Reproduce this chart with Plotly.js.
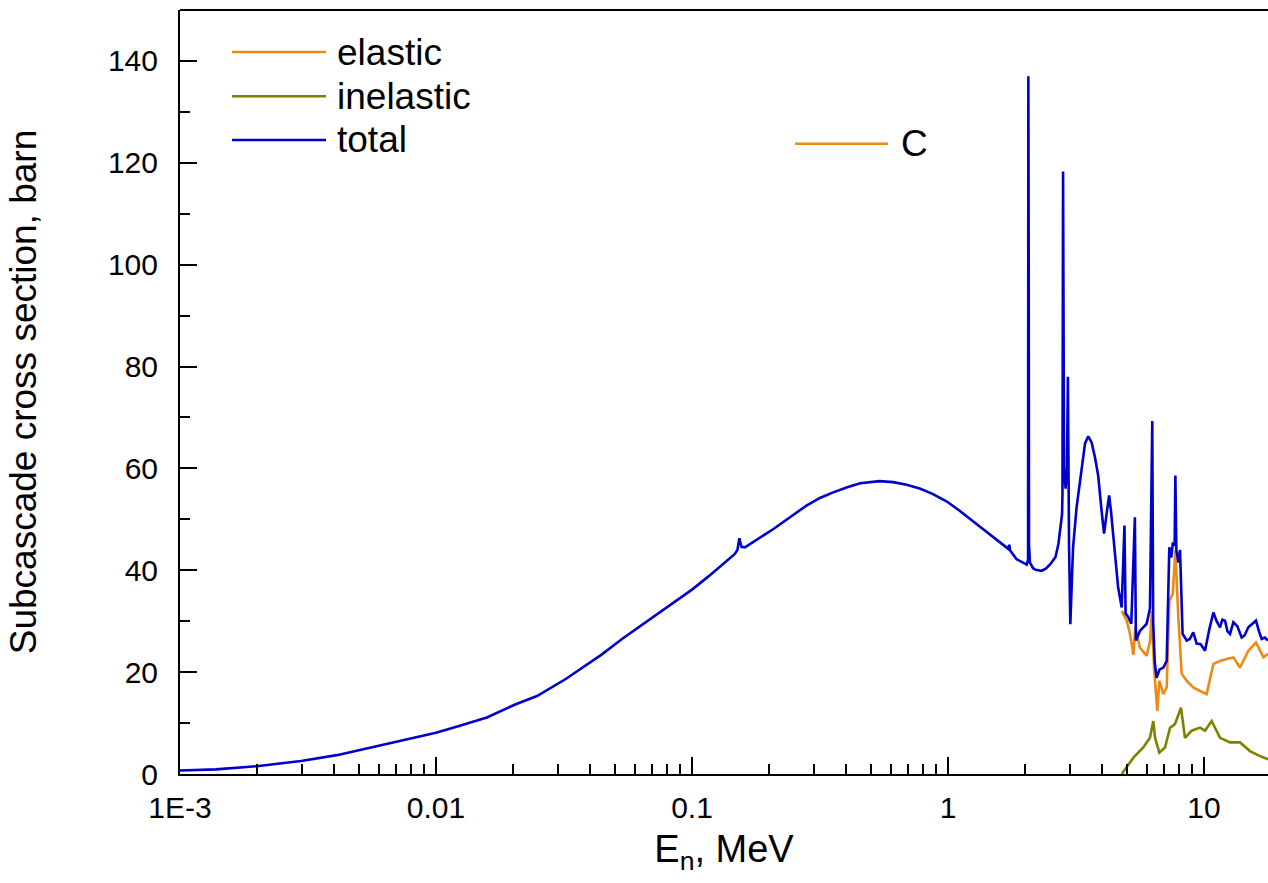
<!DOCTYPE html>
<html>
<head>
<meta charset="utf-8">
<script src="https://cdn.plot.ly/plotly-3.0.1.min.js"></script>
<style>
  html, body { margin: 0; padding: 0; background: #ffffff; }
  #chart { width: 1268px; height: 883px; }
</style>
</head>
<body>
<div id="chart"></div>
<script>
// Neutron subcascade cross sections for carbon, barn vs neutron energy, MeV

const energyTotal = [
  0.001, 0.00138, 0.00203, 0.00297, 0.0041, 0.006, 0.0078, 0.01, 0.0123, 0.0158,
  0.0205, 0.0248, 0.032, 0.0389, 0.0442, 0.0536, 0.065, 0.0817, 0.1, 0.116,
  0.147, 0.1505, 0.1531, 0.156, 0.161, 0.208, 0.241, 0.28, 0.316,
  0.356, 0.404, 0.454, 0.54, 0.61, 0.69, 0.78, 0.87, 0.99, 1.11,
  1.25, 1.42, 1.56, 1.72, 1.735, 1.75, 1.85, 2.03, 2.055, 2.06,
  2.064, 2.067, 2.072, 2.09, 2.15, 2.2, 2.32, 2.41, 2.51, 2.63,
  2.70, 2.75, 2.79, 2.80, 2.815, 2.84, 2.88, 2.915, 2.94, 2.97,
  3.005, 3.04, 3.08, 3.18, 3.33, 3.43, 3.53, 3.64, 3.75, 3.86,
  3.98, 4.07, 4.18, 4.26, 4.33, 4.49, 4.62, 4.77, 4.89, 4.94,
  5.05, 5.2, 5.37, 5.42, 5.62, 5.97, 6.15, 6.28, 6.33, 6.42,
  6.53, 6.7, 6.94, 7.15, 7.32, 7.45, 7.55, 7.68, 7.73, 7.80,
  7.95, 8.06, 8.25, 8.56, 8.8, 9.08, 9.36, 9.7, 10.09, 10.5,
  10.88, 11.2, 11.55, 11.8, 12.08, 12.35, 12.64, 13.02, 13.5, 14.03,
  14.4, 14.9, 15.4, 15.96, 16.4, 16.8, 17.3, 17.78
];
const sigmaTotal = [
  0.7, 0.9, 1.57, 2.56, 3.7, 5.6, 6.8, 8.1, 9.4, 11.1,
  13.7, 15.3, 18.6, 21.4, 23.4, 26.6, 29.6, 33.0, 36.2, 38.8,
  43.2, 44.0, 46.3, 44.6, 44.5, 48.1, 50.4, 52.7, 54.2,
  55.3, 56.3, 57.1, 57.5, 57.3, 56.8, 56.0, 55.0, 53.5, 51.7,
  49.7, 47.4, 45.8, 44.2, 45.0, 43.9, 42.2, 41.1, 42.0, 137,
  92, 99.5, 45, 41.5, 40.4, 40.1, 39.9, 40.3, 41.2, 42.6,
  45.2, 48.4, 51, 55, 118.3, 60, 56, 60, 78, 45,
  29.4, 36.6, 44.5, 52.4, 60.2, 64.9, 66.3, 65.1, 62.2, 58.6,
  51.7, 47.2, 51.7, 54.7, 51.7, 42.5, 36.6, 32.7, 48.8, 31.5,
  30.9, 29.5, 50.4, 26.2, 28.1, 29.5, 32.5, 69.3, 30, 22,
  18.9, 20.5, 20.9, 22.2, 44.5, 42.5, 45.2, 45, 58.6, 43.9,
  41.5, 44, 27.5, 26.2, 26.5, 27.8, 25.6, 25.5, 24.2, 28.5,
  31.7, 30, 28.8, 30.3, 30.1, 28, 27.5, 29.8, 29, 26.8,
  27.2, 28.8, 29.5, 30.1, 28, 26.5, 26.8, 26.2
];

const energyElastic = [
  4.77, 4.99, 5.14, 5.30, 5.39, 5.62, 5.97, 6.15, 6.19, 6.25,
  6.38, 6.57, 6.69, 6.94, 7.15, 7.32, 7.55, 7.73, 7.94, 8.18,
  8.56, 9.08, 9.65, 10.24, 10.88, 11.55, 12.26, 13.02, 13.82, 14.9,
  15.96, 17.06, 17.78
];
const sigmaElastic = [
  32.0, 30.1, 27.5, 23.4, 28.8, 24.8, 23.2, 26.0, 28.1, 32.0,
  20.9, 12.4, 18.3, 15.7, 17.0, 34.0, 35.4, 43.9, 30.7, 19.7,
  18.3, 17.0, 16.3, 15.7, 21.6, 22.2, 22.6, 22.9, 20.9, 24.2,
  25.8, 22.9, 23.6
];

const energyInelastic = [
  4.77, 5.30, 5.79, 6.15, 6.34, 6.44, 6.69, 7.04, 7.37, 7.70,
  8.13, 8.43, 8.95, 9.65, 10.09, 10.71, 11.55, 12.64, 13.82, 15.12,
  16.55, 17.78
];
const sigmaInelastic = [
  0.0, 3.2, 5.2, 7.1, 10.4, 7.1, 4.2, 5.2, 9.1, 9.8,
  13.0, 7.1, 8.5, 9.1, 8.5, 10.4, 7.1, 6.2, 6.2, 4.5,
  3.5, 2.9
];

const seriesNames = ['elastic', 'inelastic', 'total'];
const seriesColors = ['#EC8A14', '#808000', '#0000CC'];
const sampleLabel = 'C';

const xTickVals = [0.001, 0.01, 0.1, 1, 10];
const xTickText = ['1E-3', '0.01', '0.1', '1', '10'];
const yTickVals = [0, 20, 40, 60, 80, 100, 120, 140];

// minor ticks 2..9 in every decade
const xMinorVals = [];
[0.001, 0.01, 0.1, 1].forEach(d => { for (let k = 2; k <= 9; k++) xMinorVals.push(+(k * d).toPrecision(3)); });

const FONT = 'Liberation Sans, Arial, sans-serif';

const traces = [
  { x: energyElastic, y: sigmaElastic, name: seriesNames[0], mode: 'lines',
    line: { color: seriesColors[0], width: 2.6 } },
  { x: energyInelastic, y: sigmaInelastic, name: seriesNames[1], mode: 'lines',
    line: { color: seriesColors[1], width: 2.6 } },
  { x: energyTotal, y: sigmaTotal, name: seriesNames[2], mode: 'lines',
    line: { color: seriesColors[2], width: 2.6 } }
];

// hand-built legend: long line samples with labels
const legendRows = [0.945, 0.887, 0.830];
const shapes = [
  { type: 'line', xref: 'paper', yref: 'paper', x0: 0, x1: 1, y0: 1, y1: 1,
    line: { color: '#000', width: 2 } }
];
const annotations = [];
seriesNames.forEach((name, i) => {
  shapes.push({ type: 'line', xref: 'paper', yref: 'paper',
    x0: 0.0478, x1: 0.1342, y0: legendRows[i], y1: legendRows[i],
    line: { color: seriesColors[i], width: 2.5 } });
  annotations.push({ xref: 'paper', yref: 'paper', x: 0.1425, y: legendRows[i],
    xanchor: 'left', yanchor: 'middle', text: name, showarrow: false,
    font: { family: FONT, size: 37, color: '#000' } });
});
shapes.push({ type: 'line', xref: 'paper', yref: 'paper',
  x0: 0.5653, x1: 0.6508, y0: 0.825, y1: 0.825,
  line: { color: seriesColors[0], width: 2.5 } });
annotations.push({ xref: 'paper', yref: 'paper', x: 0.6605, y: 0.825,
  xanchor: 'left', yanchor: 'middle', text: sampleLabel, showarrow: false,
  font: { family: FONT, size: 37, color: '#000' } });

const layout = {
  width: 1268, height: 883,
  margin: { l: 180, r: 0, t: 10, b: 109 },
  paper_bgcolor: '#ffffff', plot_bgcolor: '#ffffff',
  showlegend: false,
  font: { family: FONT, color: '#000' },
  xaxis: {
    type: 'log', range: [-3, 1.25],
    tickmode: 'array', tickvals: xTickVals, ticktext: xTickText,
    ticks: 'inside', ticklen: 17, tickwidth: 2, tickcolor: '#000',
    ticklabelstandoff: 6,
    showline: true, linewidth: 2, linecolor: '#000',
    showgrid: false, zeroline: false,
    tickfont: { family: FONT, size: 30, color: '#000' },
    minor: { tickmode: 'array', tickvals: xMinorVals, ticks: 'inside',
             ticklen: 10, tickwidth: 2, tickcolor: '#000', showgrid: false },
    title: { text: 'E<sub>n</sub>, MeV', font: { family: FONT, size: 38, color: '#000' }, standoff: 12 }
  },
  yaxis: {
    range: [0, 150],
    tickmode: 'array', tickvals: yTickVals,
    ticks: 'inside', ticklen: 17, tickwidth: 2, tickcolor: '#000',
    ticklabelstandoff: 14,
    showline: true, linewidth: 2, linecolor: '#000',
    showgrid: false, zeroline: false,
    tickfont: { family: FONT, size: 30, color: '#000' },
    minor: { tickmode: 'linear', tick0: 0, dtick: 10, ticks: 'inside',
             ticklen: 10, tickwidth: 2, tickcolor: '#000', showgrid: false },
    title: { text: 'Subcascade cross section, barn', font: { family: FONT, size: 37, color: '#000' }, standoff: 60 }
  },
  shapes: shapes,
  annotations: annotations
};

Plotly.newPlot('chart', traces, layout, { displayModeBar: false, staticPlot: true });
</script>
</body>
</html>
